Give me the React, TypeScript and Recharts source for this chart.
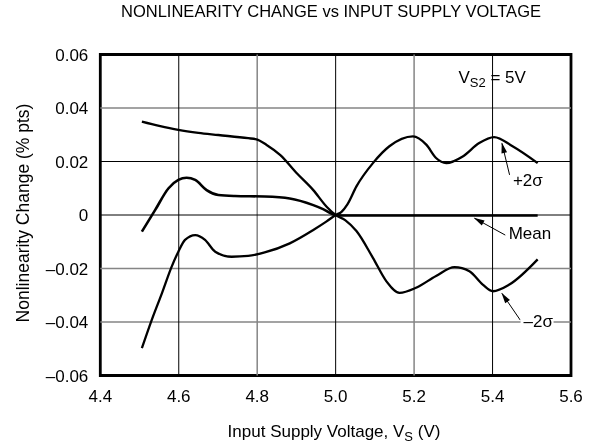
import { LineChart, Line, XAxis, YAxis, ReferenceLine, ReferenceArea, ReferenceDot } from "recharts";

// trace starting top-left, crossing at 5.0 V and ending as the -2σ curve
const voltsA = [4.506, 4.55, 4.599, 4.65, 4.701, 4.777, 4.798, 4.824, 4.859, 4.901, 4.943, 4.977, 5.0, 5.025, 5.053, 5.095, 5.129, 5.163, 5.205, 5.256, 5.303, 5.341, 5.375, 5.401, 5.443, 5.515];
const changeA = [0.0349, 0.0333, 0.0318, 0.0307, 0.0299, 0.0287, 0.0283, 0.0262, 0.0224, 0.0156, 0.0093, 0.0031, 0, -0.002, -0.006, -0.016, -0.0247, -0.0291, -0.0272, -0.0228, -0.0195, -0.021, -0.026, -0.0285, -0.026, -0.0166];

// middle trace on the left, mean on the right
const voltsB = [4.506, 4.54, 4.574, 4.599, 4.62, 4.642, 4.671, 4.701, 4.743, 4.819, 4.883, 4.943, 4.968, 5.0, 5.03, 5.1, 5.3, 5.515];
const changeB = [-0.0062, 0.0019, 0.01, 0.0131, 0.0139, 0.0131, 0.0093, 0.0075, 0.0071, 0.0069, 0.0062, 0.0037, 0.0022, 0, -0.0002, -0.0002, -0.0002, -0.0002];

// trace starting bottom-left, ending as the +2σ curve
const voltsC = [4.506, 4.531, 4.557, 4.582, 4.599, 4.616, 4.642, 4.667, 4.693, 4.735, 4.777, 4.819, 4.883, 4.943, 4.977, 5.0, 5.015, 5.03, 5.053, 5.095, 5.137, 5.197, 5.231, 5.256, 5.282, 5.324, 5.366, 5.404, 5.451, 5.515];
const changeC = [-0.0498, -0.0393, -0.0293, -0.0193, -0.0137, -0.0093, -0.0075, -0.0093, -0.0137, -0.0156, -0.0153, -0.014, -0.0106, -0.0056, -0.0024, 0, 0.0012, 0.004, 0.0107, 0.0194, 0.0257, 0.0294, 0.0263, 0.0213, 0.0194, 0.0219, 0.0269, 0.0291, 0.0257, 0.0194];

const xTicks = [4.4, 4.6, 4.8, 5.0, 5.2, 5.4, 5.6];
const yTicks = [-0.06, -0.04, -0.02, 0, 0.02, 0.04, 0.06];
const blackVert = [4.6, 5.0, 5.4];
const grayVert = [4.8, 5.2];
const blackHoriz = [0.02, 0];
const grayHoriz = [0.04, -0.02, -0.04];

const FONT = "'Liberation Sans', Arial, sans-serif";

const traceA = voltsA.map((v, i) => ({ v, y: changeA[i] }));
const traceB = voltsB.map((v, i) => ({ v, y: changeB[i] }));
const traceC = voltsC.map((v, i) => ({ v, y: changeC[i] }));

const fmtY = (n: number) => (n === 0 ? "0" : n < 0 ? "\u2013" + Math.abs(n).toFixed(2) : n.toFixed(2));

function textShape(content: React.ReactNode, bg?: boolean) {
  return (p: any) => (
    <g>
      {bg && <rect x={p.cx - 3} y={p.cy - 10} width={33} height={20} fill="#fff" />}
      <text x={p.cx} y={p.cy} dy="0.35em" fontFamily={FONT} fontSize={17} fill="#000">
        {content}
      </text>
    </g>
  );
}

export default function App() {
  return (
    <div style={{ position: "fixed", left: 0, top: 0, width: 597, height: 447, background: "#fff", fontFamily: FONT }}>
      <svg width={0} height={0} style={{ position: "absolute" }}>
        <defs>
          <marker id="arrowHead" viewBox="0 0 12 10" refX="11" refY="5" markerWidth="12" markerHeight="9" orient="auto" markerUnits="userSpaceOnUse">
            <path d="M0,1.8 L12,5 L0,8.2 z" fill="#000" />
          </marker>
        </defs>
      </svg>
      <div style={{ position: "absolute", top: 2, left: 0, width: 662, textAlign: "center", fontSize: 16.5 }}>
        NONLINEARITY CHANGE vs INPUT SUPPLY VOLTAGE
      </div>
      <LineChart width={597} height={447} margin={{ top: 54.5, right: 26, bottom: 41.5, left: 40.3 }}>
        <XAxis
          type="number"
          dataKey="v"
          domain={[4.4, 5.6]}
          ticks={xTicks}
          tickFormatter={(n: number) => n.toFixed(1)}
          axisLine={false}
          tickLine={false}
          height={30}
          tick={{ fill: "#000", fontSize: 17, fontFamily: FONT }}
          tickMargin={8}
          allowDuplicatedCategory={false}
        />
        <YAxis
          type="number"
          domain={[-0.06, 0.06]}
          ticks={yTicks}
          tickFormatter={fmtY}
          axisLine={false}
          tickLine={false}
          width={60}
          tick={{ fill: "#000", fontSize: 17, fontFamily: FONT }}
          tickMargin={6}
        />
        {grayVert.map((x) => (
          <ReferenceLine key={"gv" + x} x={x} stroke="#858585" strokeWidth={1.5} />
        ))}
        {grayHoriz.map((y) => (
          <ReferenceLine key={"gh" + y} y={y} stroke="#858585" strokeWidth={1.5} />
        ))}
        {blackVert.map((x) => (
          <ReferenceLine key={"bv" + x} x={x} stroke="#000" strokeWidth={1} />
        ))}
        {blackHoriz.map((y) => (
          <ReferenceLine key={"bh" + y} y={y} stroke="#000" strokeWidth={1} />
        ))}
        <Line data={traceA} dataKey="y" type="monotone" stroke="#000" strokeWidth={2.3} dot={false} isAnimationActive={false} />
        <Line data={traceB} dataKey="y" type="monotone" stroke="#000" strokeWidth={2.6} dot={false} isAnimationActive={false} />
        <Line data={traceC} dataKey="y" type="monotone" stroke="#000" strokeWidth={2.3} dot={false} isAnimationActive={false} />
        <ReferenceArea x1={4.4} x2={5.6} y1={-0.06} y2={0.06} fill="none" fillOpacity={0} stroke="#000" strokeWidth={2.8} />
        <ReferenceLine segment={[{ x: 5.4434, y: 0.015 }, { x: 5.424, y: 0.0268 }]} stroke="#000" strokeWidth={1} markerEnd="url(#arrowHead)" />
        <ReferenceLine segment={[{ x: 5.4324, y: -0.0075 }, { x: 5.354, y: -0.0012 }]} stroke="#000" strokeWidth={1} markerEnd="url(#arrowHead)" />
        <ReferenceLine segment={[{ x: 5.4707, y: -0.0393 }, { x: 5.424, y: -0.0293 }]} stroke="#000" strokeWidth={1} markerEnd="url(#arrowHead)" />
        <ReferenceDot x={5.452} y={0.0131} r={0} shape={textShape("+2\u03c3")} />
        <ReferenceDot x={5.441} y={-0.0066} r={0} shape={textShape("Mean")} />
        <ReferenceDot x={5.479} y={-0.0396} r={0} shape={textShape("\u20132\u03c3", true)} />
        <ReferenceDot
          x={5.313}
          y={0.0493}
          r={0}
          shape={(p: any) => (
            <text x={p.cx} y={p.cy} fontFamily={FONT} fontSize={17} fill="#000">
              V<tspan fontSize={13} dy={4}>S2</tspan>
              <tspan dy={-4}> = 5V</tspan>
            </text>
          )}
        />
      </LineChart>
      <div
        style={{
          position: "absolute",
          left: 23,
          top: 213,
          transform: "translate(-50%, -50%) rotate(-90deg)",
          whiteSpace: "nowrap",
          fontSize: 17.5,
        }}
      >
        Nonlinearity Change (% pts)
      </div>
      <div style={{ position: "absolute", top: 422, left: 0, width: 668, textAlign: "center", fontSize: 17 }}>
        Input Supply Voltage, V<sub style={{ fontSize: 13, verticalAlign: "-4px" }}>S</sub> (V)
      </div>
    </div>
  );
}
